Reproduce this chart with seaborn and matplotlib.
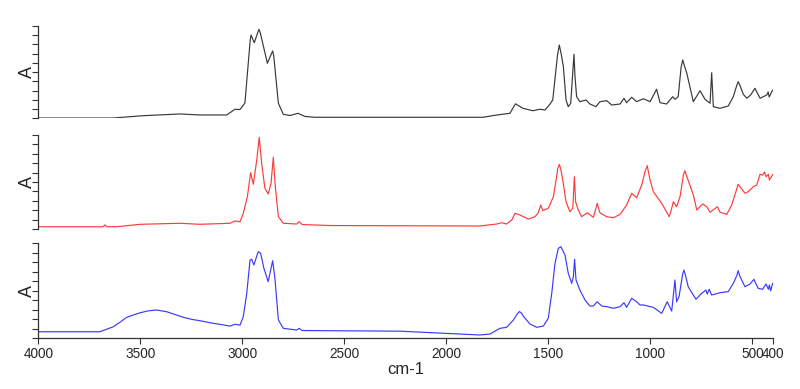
import matplotlib
matplotlib.use("Agg")
import matplotlib.pyplot as plt
import numpy as np
import pandas as pd
import seaborn as sns

# spectrum 1 (black)
wn_black = [4000, 3635, 3488, 3306, 3208, 3077, 3037, 3012, 2988, 2962, 2958,
            2952, 2942, 2925, 2919, 2912, 2878, 2856, 2852, 2847, 2824, 2800,
            2767, 2728, 2694, 2645,
            1821, 1752, 1689, 1662, 1625, 1576, 1542, 1517, 1493, 1479,
            1456, 1447, 1438, 1427, 1414, 1403, 1391, 1375, 1370, 1362, 1346, 1316,
            1297, 1267, 1248, 1215, 1190, 1149, 1130, 1117, 1092, 1068,
            1035, 1002, 970, 953, 921, 891, 880, 864, 850, 842, 835, 822,
            790, 757, 733, 708, 700, 692, 659, 619, 594, 578, 570, 562,
            545, 528, 509, 488, 463, 430, 423, 418, 406, 400]
a_black = [0.003, 0.003, 0.028, 0.047, 0.036, 0.036, 0.098, 0.095, 0.166, 0.85, 0.902,
           0.87, 0.819, 0.93, 0.964, 0.92, 0.596, 0.71, 0.729, 0.68, 0.163, 0.043,
           0.03, 0.054, 0.02, 0.011,
           0.011, 0.036, 0.054, 0.157, 0.108, 0.082, 0.098, 0.09, 0.152, 0.198,
           0.68, 0.794, 0.70, 0.559, 0.198, 0.126, 0.163, 0.693, 0.451, 0.234, 0.18, 0.198,
           0.155, 0.126, 0.18, 0.191, 0.144, 0.155, 0.217, 0.169, 0.228, 0.18,
           0.212, 0.18, 0.314, 0.169, 0.155, 0.234, 0.206, 0.234, 0.55, 0.632, 0.58, 0.488,
           0.18, 0.299, 0.206, 0.163, 0.494, 0.126, 0.108, 0.133, 0.234, 0.35, 0.397, 0.36,
           0.26, 0.217, 0.252, 0.325, 0.217, 0.252, 0.285, 0.23, 0.288, 0.307]

# spectrum 2 (red)
wn_red = [4000, 3684, 3674, 3664, 3617, 3502, 3306, 3208, 3061, 3037,
          3012, 2996, 2976, 2960, 2947, 2930, 2918, 2906, 2890, 2874,
          2860, 2849, 2839, 2824, 2800, 2734, 2722, 2708, 2571, 1836,
          1754, 1729, 1705, 1680, 1664, 1640, 1599, 1566, 1550, 1538,
          1528, 1501, 1476, 1460, 1455, 1447, 1440, 1430, 1414, 1395, 1381, 1373,
          1367, 1354, 1337, 1310, 1280, 1261, 1248, 1215, 1182, 1149,
          1117, 1092, 1068, 1043, 1027, 1016, 1002, 986, 945, 908,
          896, 888, 872, 855, 838, 831, 824, 810, 790, 773, 744, 724,
          708, 672, 659, 626, 602, 570, 537, 521, 496, 479,
          463, 450, 441, 434, 422, 417, 400]
a_red = [0.024, 0.024, 0.043, 0.024, 0.024, 0.05, 0.061, 0.05, 0.061, 0.085,
         0.078, 0.167, 0.344, 0.599, 0.476, 0.734, 0.976, 0.699, 0.433, 0.372,
         0.486, 0.763, 0.45, 0.131, 0.061, 0.053, 0.078, 0.048, 0.037, 0.032,
         0.053, 0.067, 0.053, 0.096, 0.167, 0.149, 0.106, 0.131, 0.173, 0.255,
         0.195, 0.22, 0.344, 0.556, 0.64, 0.688, 0.64, 0.521, 0.29, 0.184, 0.22, 0.556,
         0.29, 0.202, 0.131, 0.173, 0.124, 0.273, 0.173, 0.131, 0.12, 0.156,
         0.255, 0.38, 0.333, 0.468, 0.61, 0.673, 0.521, 0.397, 0.273, 0.131,
         0.22, 0.29, 0.237, 0.344, 0.58, 0.62, 0.57, 0.486, 0.362, 0.202, 0.266, 0.237,
         0.178, 0.237, 0.178, 0.156, 0.255, 0.476, 0.38, 0.397, 0.45, 0.468,
         0.582, 0.574, 0.606, 0.556, 0.582, 0.521, 0.582]

# spectrum 3 (blue)
wn_blue = [4000, 3699, 3633, 3600, 3568, 3502, 3460, 3421, 3372, 3330, 3290, 3250, 3208, 3159,
           3061, 3037, 3012, 2996, 2979, 2963, 2955, 2944, 2923, 2911,
           2895, 2874, 2852, 2841, 2824, 2800, 2734, 2722, 2708, 2228,
           1982, 1836, 1787, 1738, 1705, 1672, 1655, 1643, 1632, 1624, 1591, 1558,
           1525, 1501, 1484, 1468, 1452, 1439, 1419, 1403, 1386, 1378,
           1372, 1365, 1346, 1321, 1297, 1280, 1261, 1239, 1215, 1182,
           1149, 1130, 1117, 1092, 1068, 1051, 1035, 986, 945, 918,
           896, 880, 872, 860, 842, 836, 828, 815, 777, 749, 728, 722,
           712, 700, 659, 619, 594, 577, 570, 563, 537, 512, 493, 472,
           450, 434, 422, 417, 411, 401]
a_blue = [0.069, 0.069, 0.122, 0.17, 0.221, 0.269, 0.29, 0.298, 0.28, 0.25, 0.221, 0.2, 0.185, 0.164,
          0.129, 0.147, 0.14, 0.227, 0.474, 0.824, 0.832, 0.772, 0.912, 0.895,
          0.737, 0.596, 0.817, 0.632, 0.193, 0.105, 0.087, 0.105, 0.082, 0.075,
          0.05, 0.035, 0.045, 0.105, 0.116, 0.193, 0.25, 0.282, 0.265, 0.235, 0.151, 0.116,
          0.129, 0.211, 0.474, 0.789, 0.947, 0.964, 0.877, 0.684, 0.579, 0.648,
          0.832, 0.614, 0.508, 0.403, 0.34, 0.34, 0.385, 0.34, 0.333, 0.316,
          0.333, 0.375, 0.326, 0.421, 0.385, 0.351, 0.351, 0.326, 0.263, 0.385,
          0.287, 0.614, 0.385, 0.438, 0.68, 0.719, 0.66, 0.543, 0.411, 0.474, 0.508, 0.466,
          0.516, 0.456, 0.48, 0.491, 0.579, 0.66, 0.712, 0.66, 0.543, 0.572, 0.621, 0.526,
          0.516, 0.572, 0.516, 0.561, 0.5, 0.579]

x_ticks = [4000, 3500, 3000, 2500, 2000, 1500, 1000, 500, 400]

sns.set_style("ticks")
plt.rcParams["font.family"] = ["Liberation Sans", "DejaVu Sans"]

fig = plt.figure(figsize=(8, 3.89), dpi=100)

# panel positions in figure fractions (left, bottom, width, height)
boxes = [
    (0.0481, 0.6959, 0.918, 0.2373),
    (0.0481, 0.4113, 0.918, 0.2416),
    (0.0481, 0.1303, 0.918, 0.2442),
]
spectra = [
    (wn_black, a_black, "#383838"),
    (wn_red, a_red, "#ff3a3a"),
    (wn_blue, a_blue, "#3a3aff"),
]

for i, (box, (wn, ab, col)) in enumerate(zip(boxes, spectra)):
    ax = fig.add_axes(box)
    df = pd.DataFrame({"wn": wn, "A": ab})
    sns.lineplot(data=df, x="wn", y="A", ax=ax, color=col, lw=0.85,
                 estimator=None)
    ax.set_xlim(4000, 400)
    ax.set_ylim(0, 1)
    ax.set_yticks(np.linspace(0, 1, 11))
    ax.set_yticklabels([])
    ax.tick_params(axis="y", direction="out", length=4.5, width=0.8,
                   color="#333333")
    ax.set_ylabel("A", fontsize=13)
    ax.yaxis.set_label_coords(-0.004, 0.5)
    for s in ["top", "right"]:
        ax.spines[s].set_visible(False)
    ax.spines["left"].set_color("#333333")
    ax.spines["left"].set_linewidth(0.9)
    if i < 2:
        ax.spines["bottom"].set_visible(False)
        ax.set_xticks([])
        ax.set_xlabel("")
    else:
        ax.spines["bottom"].set_color("#333333")
        ax.spines["bottom"].set_linewidth(0.9)
        ax.set_xticks(x_ticks)
        ax.set_xticklabels([str(t) for t in x_ticks], fontsize=9.8)
        ax.tick_params(axis="x", direction="out", length=4, width=0.8,
                       color="#333333", pad=2)
        ax.set_xlabel("cm-1", fontsize=12, labelpad=1)

fig.savefig("out.png", dpi=100)
